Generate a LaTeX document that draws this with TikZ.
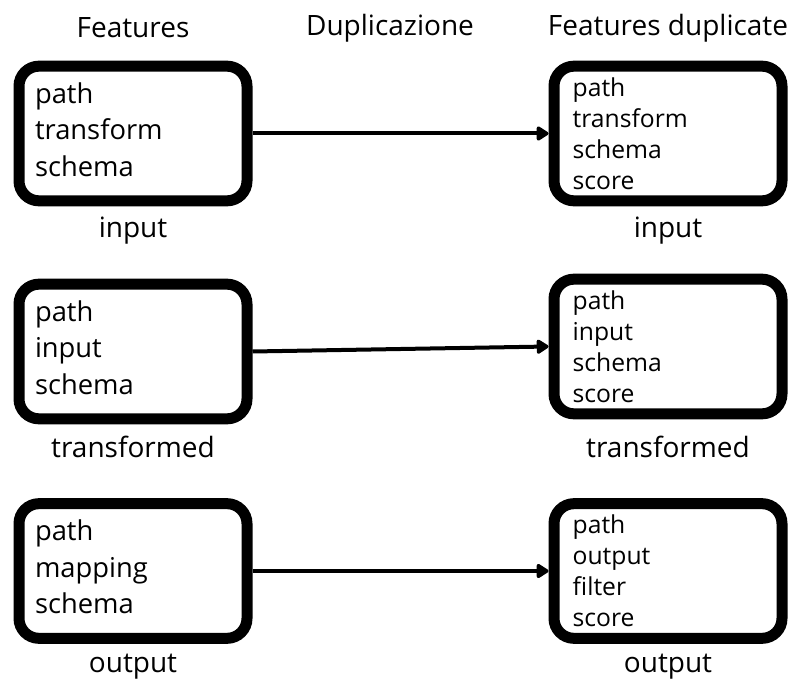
\documentclass[tikz,border=0pt]{standalone}
\usepackage{fontspec}
\setmainfont{Open Sans}
\usetikzlibrary{arrows.meta}

\colorlet{edge}{black}

\begin{document}
\begin{tikzpicture}[x=0.75pt, y=-0.75pt,
  feat/.style={draw=edge, line width=8.25pt, rounded corners=15pt,
    minimum height=101pt, inner xsep=12pt, text width=147pt, align=left,
    execute at end node={\endgraf\vspace{6pt}},
    font=\fontsize{20.5}{27.5}\selectfont},
  dup/.style={draw=edge, line width=8.25pt, rounded corners=15pt,
    minimum height=101pt, inner xsep=14pt, text width=143pt, align=left,
    font=\fontsize{18.5}{23.2}\selectfont},
  lbl/.style={font=\fontsize{21}{24}\selectfont},
  link/.style={draw=edge, line width=3pt, -{Triangle[length=10pt, width=12pt, round]}}]
  \useasboundingbox (0,0) rectangle (792,681);

  % headers
  \draw (133,28) node[lbl] (hfeat) {Features};
  \draw (390,28) node[lbl] (hdup) {Duplicazione};
  \draw (668,28) node[lbl] (hfdup) {Features duplicate};

  % features
  \node[feat] (fin)  at (133,133.5) {path\\transform\\schema};
  \node[feat] (ftr)  at (133,351.5) {path\\input\\schema};
  \node[feat] (fout) at (133,571)   {path\\mapping\\schema};

  % duplicated features
  \node[dup] (din)  at (668,133.5) {path\\transform\\schema\\score};
  \node[dup] (dtr)  at (668,346.5) {path\\input\\schema\\score};
  \node[dup] (dout) at (668,571)   {path\\output\\filter\\score};

  % names
  \draw (133,231) node[lbl] (lfin)  {input};
  \draw (133,447) node[lbl] (lftr)  {transformed};
  \draw (133,667) node[lbl] (lfout) {output};
  \draw (668,231) node[lbl] (ldin)  {input};
  \draw (668,447) node[lbl] (ldtr)  {transformed};
  \draw (668,667) node[lbl] (ldout) {output};

  \draw[link] (fin.east)  -- (din.west);
  \draw[link] (ftr.east)  -- (dtr.west);
  \draw[link] (fout.east) -- (dout.west);
\end{tikzpicture}
\end{document}
